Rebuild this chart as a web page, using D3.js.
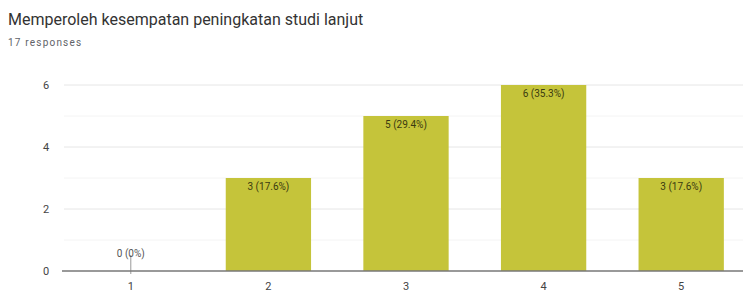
<!DOCTYPE html>
<html>
<head>
<meta charset="utf-8">
<script src="https://cdn.jsdelivr.net/npm/d3@7"></script>
<style>
  body { margin: 0; background: #fff; font-family: Roboto, Arial, sans-serif; }
</style>
</head>
<body>
<div id="chart"></div>
<script>
const categories = ["1", "2", "3", "4", "5"];
const counts = [0, 3, 5, 6, 3];
const labels = ["0 (0%)", "3 (17.6%)", "5 (29.4%)", "6 (35.3%)", "3 (17.6%)"];
const yTicks = [0, 2, 4, 6];
const minorTicks = [1, 3, 5];

const width = 743, height = 293;
const svg = d3.select("#chart").append("svg")
    .attr("width", width)
    .attr("height", height);

svg.append("text")
    .attr("x", 8).attr("y", 25)
    .style("font-size", "16px")
    .style("fill", "#333")
    .text("Memperoleh kesempatan peningkatan studi lanjut");

svg.append("text")
    .attr("x", 8).attr("y", 46)
    .style("font-size", "10px")
    .style("letter-spacing", "1.2px")
    .style("fill", "#5f6368")
    .text("17 responses");

const x = d3.scaleBand()
    .domain(categories)
    .range([62, 750])
    .paddingInner(0.38)
    .paddingOuter(0.19);

const y = d3.scaleLinear()
    .domain([0, 6])
    .range([271, 85]);

// gridlines
svg.append("g").selectAll("line.minor")
    .data(minorTicks).join("line")
    .attr("x1", 64).attr("x2", 743)
    .attr("y1", d => y(d)).attr("y2", d => y(d))
    .attr("stroke", "#f4f4f4");

svg.append("g").selectAll("line.major")
    .data(yTicks.filter(d => d > 0)).join("line")
    .attr("x1", 64).attr("x2", 743)
    .attr("y1", d => y(d)).attr("y2", d => y(d))
    .attr("stroke", "#e6e6e6");

// y tick labels
svg.append("g").selectAll("text")
    .data(yTicks).join("text")
    .attr("x", 46)
    .attr("y", d => y(d) + 4)
    .attr("text-anchor", "middle")
    .style("font-size", "11px")
    .style("fill", "#444")
    .text(d => d);

// bars
svg.append("g").selectAll("rect")
    .data(counts).join("rect")
    .attr("x", (d, i) => x(categories[i]))
    .attr("y", d => y(d))
    .attr("width", x.bandwidth())
    .attr("height", d => y(0) - y(d))
    .attr("fill", "#c5c43a");

// zero-bar marker
counts.forEach((d, i) => {
    if (d === 0) {
        svg.append("line")
            .attr("x1", x(categories[i]) + x.bandwidth() / 2)
            .attr("x2", x(categories[i]) + x.bandwidth() / 2)
            .attr("y1", y(0) - 16).attr("y2", y(0) + 3)
            .attr("stroke", "#999");
    }
});

// baseline
svg.append("line")
    .attr("x1", 62).attr("x2", 743)
    .attr("y1", y(0)).attr("y2", y(0))
    .attr("stroke", "#777").attr("stroke-width", 1.5);

// value labels
svg.append("g").selectAll("text")
    .data(counts).join("text")
    .attr("x", (d, i) => x(categories[i]) + x.bandwidth() / 2)
    .attr("y", d => d === 0 ? y(0) - 14 : y(d) + 12)
    .attr("text-anchor", "middle")
    .style("font-size", "10px")
    .style("fill", d => d === 0 ? "#555" : "#3a3a10")
    .text((d, i) => labels[i]);

// x labels
svg.append("g").selectAll("text")
    .data(categories).join("text")
    .attr("x", d => x(d) + x.bandwidth() / 2)
    .attr("y", 290)
    .attr("text-anchor", "middle")
    .style("font-size", "11px")
    .style("fill", "#444")
    .text(d => d);
</script>
</body>
</html>
